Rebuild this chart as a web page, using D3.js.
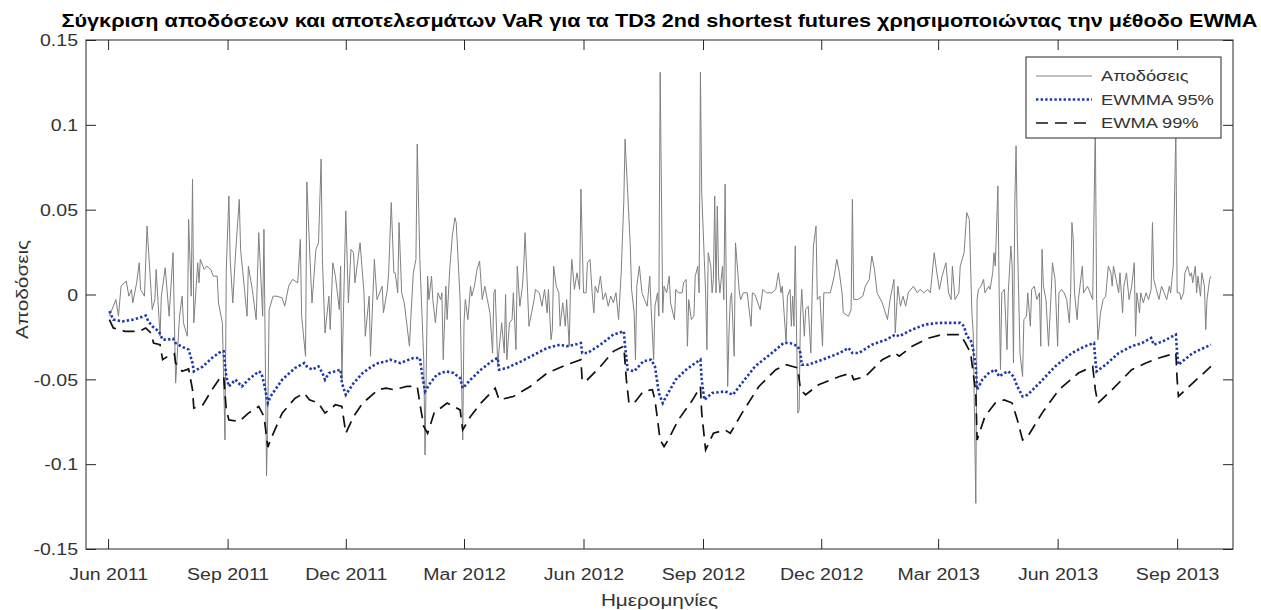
<!DOCTYPE html>
<html>
<head>
<meta charset="utf-8">
<script src="https://cdn.jsdelivr.net/npm/d3@7"></script>
<style>
  body { margin: 0; background: #fff; }
  text { font-family: "Liberation Sans", Arial, sans-serif; }
</style>
</head>
<body>
<svg id="chart" width="1261" height="610"></svg>
<script>
// dates are kept as day offsets from 1 June 2011
const startDay = new Date(2011, 5, 1);

// daily returns [day, value]
const returnsData = [
  [1,-0.0128],[6,-0.003],[8,-0.0128],[10,0.005],[14,0.0079],[16,-0.001],[18,0.003],[19,-0.005],
  [22,0.0069],[24,0.0187],[25,0.003],[28,-0.001],[30,0.0404],[33,0.003],[34,-0.0089],[36,-0.003],
  [37,0.0148],[40,-0.0246],[41,-0.001],[44,0.0158],[47,-0.0128],[50,0.0246],[52,-0.0522],[55,-0.0128],
  [57,-0.001],[58,-0.0167],[61,-0.0246],[62,0.0443],[64,-0.001],[65,0.068],[66,-0.0167],[69,0.0187],
  [70,0.0069],[71,0.0207],[74,0.0148],[76,0.0167],[79,0.0148],[81,0.0108],[84,0.0108],[85,-0.005],
  [88,-0.0167],[90,-0.0857],[91,0.0148],[93,0.0581],[94,0.0207],[96,-0.005],[98,0.0227],[101,0.0561],
  [102,0.0266],[105,0.003],[107,-0.0128],[108,0.0167],[111,0.003],[114,-0.0148],[116,0.0364],[119,-0.0128],
  [120,0.0384],[122,-0.107],[123,-0.068],[124,-0.0089],[127,-0.001],[130,-0.001],[134,-0.002],[136,-0.0069],
  [139,0.0049],[142,0.0089],[146,0.0069],[148,0.0325],[149,-0.0128],[152,-0.0364],[153,0.0664],[156,0.0108],
  [157,-0.005],[160,0.0266],[162,0.0305],[164,0.0798],[165,0.0207],[167,-0.0227],[170,-0.001],[171,-0.0207],
  [173,0.0187],[175,0.0108],[178,-0.0089],[179,0.0167],[180,-0.0502],[183,0.0493],[185,-0.005],[187,0.0266],
  [189,0.0246],[190,0.0069],[194,0.0305],[197,0.001],[198,-0.0246],[201,-0.001],[202,-0.0364],[205,0.0207],
  [207,-0.003],[211,0.0049],[212,-0.0108],[215,0.003],[216,0.0128],[218,0.0542],[220,0.0128],[221,0.0128],
  [223,0.001],[224,0.0424],[226,0.001],[228,-0.0049],[232,-0.0305],[233,-0.0148],[235,0.0128],[237,0.0207],
  [238,0.0887],[240,0.0207],[241,0.001],[243,-0.0384],[244,-0.0946],[246,0.0108],[247,-0.003],[249,0.0108],
  [250,-0.003],[252,-0.0167],[254,0.001],[256,-0.003],[257,0.001],[258,-0.0384],[260,0.0049],[261,-0.0148],
  [263,0.0148],[265,0.0345],[267,0.0453],[268,0.0424],[270,0.0128],[271,-0.003],[273,-0.0857],[274,-0.0167],
  [275,-0.003],[277,-0.0148],[279,0.0049],[280,-0.001],[282,0.0049],[284,0.0148],[286,0.0197],[288,-0.003],
  [290,0.0049],[292,-0.003],[294,-0.0108],[296,-0.0345],[297,0.001],[298,0.003],[300,-0.0424],[301,-0.0325],
  [303,-0.0167],[305,-0.0345],[306,0],[307,-0.0384],[309,-0.0167],[311,-0.0148],[312,0.001],[314,-0.0325],
  [315,0.0167],[317,-0.0069],[319,0.0049],[320,0.0167],[321,0.0364],[323,0.001],[324,-0.0187],[326,-0.0108],
  [328,-0.003],[329,0.003],[332,0.001],[334,-0.0069],[336,0.003],[338,-0.0108],[339,0.003],[341,-0.0266],
  [342,-0.0207],[343,0.0167],[345,0.0049],[347,0.001],[348,-0.0187],[350,-0.0049],[352,-0.0187],[353,-0.003],
  [355,-0.0305],[356,0.0049],[357,0.0207],[359,0.003],[361,0.0128],[363,0.003],[364,0.0621],[366,0.001],
  [368,0.001],[369,0.0187],[371,0.0207],[373,-0.003],[374,-0.0108],[375,0.0049],[377,0.001],[379,0.0108],
  [381,-0.003],[383,0.001],[385,-0.0069],[387,-0.001],[389,-0.0049],[391,0.001],[393,-0.0148],[395,0.0128],
  [397,0.0542],[398,0.0916],[400,0.0601],[402,0.0286],[403,0.003],[405,-0.0108],[406,-0.0384],[407,0.0049],
  [409,0.0167],[411,0.001],[413,-0.003],[415,-0.0069],[417,0.0108],[418,-0.0069],[420,-0.0384],[421,-0.0069],
  [423,0.001],[424,-0.0128],[425,0.131],[427,-0.0108],[428,0.0049],[430,0.001],[432,0.0108],[433,-0.0049],
  [436,-0.0148],[437,0.003],[439,0.001],[442,0.001],[443,0.0069],[445,0.0089],[446,-0.0305],[447,-0.003],
  [449,-0.0148],[451,-0.0128],[452,0.0108],[454,0.0167],[455,0.001],[456,0.131],[457,0.0601],[459,0.0207],
  [460,0.001],[461,-0.0325],[462,0.0246],[464,0.0167],[465,0.001],[466,0.0089],[467,0.0581],[468,0.001],
  [469,0.0522],[470,0.0108],[471,0.001],[473,0.0167],[474,-0.003],[475,0.065],[476,0.001],[477,-0.0542],
  [478,-0.0227],[479,-0.003],[480,0.001],[482,-0.0364],[483,0.0305],[484,0.0207],[486,0.001],[487,-0.003],
  [489,0.001],[492,0.001],[495,-0.0187],[496,0.001],[498,0],[502,-0.0089],[504,0.003],[507,0.001],
  [511,0.001],[514,0.003],[516,0.0128],[518,0.001],[519,0.0049],[522,-0.0286],[523,-0.001],[525,0.003],
  [526,-0.0187],[527,-0.001],[528,-0.0187],[529,0.0286],[531,-0.0699],[532,-0.068],[533,-0.0128],[534,0.003],
  [536,-0.0246],[537,-0.0089],[539,-0.0069],[541,-0.0345],[542,0.001],[543,0.0286],[545,0.0404],[546,-0.003],
  [548,-0.001],[550,-0.0305],[551,0.001],[554,0.001],[556,0.001],[559,0.0108],[561,0.0207],[563,0.0128],
  [565,0.001],[566,-0.0108],[570,-0.0128],[572,-0.0089],[573,0.0561],[574,-0.003],[577,-0.003],[581,-0.001],
  [583,0.0049],[586,0.0089],[588,0.0227],[590,0.0148],[592,0.001],[596,-0.0049],[600,-0.0148],[602,-0.003],
  [605,0.0089],[606,-0.0227],[608,0.0049],[610,-0.0069],[612,-0.001],[614,-0.0069],[616,0.001],[618,0.003],
  [620,0.0049],[623,0.001],[625,0.003],[628,0.001],[631,0.003],[633,0.001],[634,0.0089],[636,0.0246],
  [638,0.0128],[640,0.003],[642,0.0108],[645,0.0187],[647,0.001],[649,-0.003],[650,0.0167],[652,-0.003],
  [655,0.001],[656,0.0167],[659,0.0246],[661,0.0483],[663,0.0443],[664,0.0167],[665,-0.0108],[666,-0.0227],
  [668,-0.1231],[669,-0.003],[670,0.003],[672,0.0049],[674,0.0089],[675,0.001],[678,0.0049],[679,0.003],
  [681,0.0128],[682,0.0246],[683,0.0167],[685,0.064],[686,0.001],[687,-0.0443],[688,0.001],[690,0.003],
  [692,-0.0325],[693,0.001],[695,0.0286],[696,0.0167],[697,-0.0404],[698,0.0522],[699,0.0877],[700,0.0325],
  [701,0.001],[702,-0.0345],[704,-0.0483],[705,-0.0148],[707,-0.0128],[708,0.001],[710,-0.0187],[711,0.003],
  [713,0.0049],[715,-0.003],[717,0.001],[718,-0.0305],[719,0.0266],[720,0.0049],[722,-0.003],[724,-0.0305],
  [726,0.001],[727,0.0187],[729,0.0089],[731,-0.0305],[732,0.001],[734,0.003],[736,0.001],[738,-0.003],
  [740,-0.0167],[741,0.001],[742,0.0424],[743,0.0325],[744,0.001],[746,-0.0148],[747,-0.003],[750,0.0167],
  [751,0.001],[754,0.0049],[756,0.001],[758,-0.003],[760,0.1],[761,-0.003],[762,-0.0266],[764,-0.0108],
  [766,-0.003],[768,-0.001],[770,0.0167],[772,0.0128],[773,0.0049],[774,0.0167],[776,0.0089],[778,0.001],
  [779,0.0128],[781,-0.0108],[782,0.0049],[784,0.0128],[786,-0.003],[788,0.0049],[790,0.0187],[791,-0.0246],
  [792,0.001],[794,-0.0108],[795,0.001],[797,-0.0049],[799,0.001],[801,-0.003],[803,0.003],[804,0.0424],
  [805,0.0089],[807,0.003],[809,-0.003],[811,0.0049],[813,0.001],[815,-0.003],[817,0.0049],[818,0.001],
  [820,0.0167],[822,0.097],[823,0.001],[825,0.001],[826,-0.003],[828,0.001],[829,0.0128],[831,0.0167],
  [833,0.0108],[834,0.0128],[835,0.0069],[837,0.0167],[838,0.001],[839,0.0108],[841,-0.001],[842,0.0128],
  [844,0.0049],[845,-0.0207],[846,-0.003],[848,0.0089],[849,0.0108]
];

// EWMA VaR 95% [day, value]
const var95Data = [
  [1,-0.0098],[4,-0.0148],[11,-0.0158],[19,-0.0148],[24,-0.0138],[29,-0.0124],[31,-0.0158],[34,-0.0187],
  [39,-0.0217],[42,-0.0266],[46,-0.0266],[50,-0.026],[52,-0.0286],[56,-0.0305],[62,-0.0325],[65,-0.0404],
  [66,-0.0453],[73,-0.0424],[80,-0.0374],[87,-0.0335],[89,-0.0335],[91,-0.0483],[93,-0.0542],[98,-0.0502],
  [103,-0.0542],[108,-0.0502],[116,-0.0453],[118,-0.0463],[120,-0.0522],[123,-0.064],[125,-0.0601],[134,-0.0502],
  [144,-0.0433],[151,-0.0404],[153,-0.0424],[157,-0.0443],[162,-0.0424],[165,-0.0463],[167,-0.0502],[170,-0.0463],
  [179,-0.0443],[180,-0.0522],[183,-0.0591],[189,-0.0522],[196,-0.0463],[203,-0.0424],[208,-0.0404],[214,-0.0394],
  [217,-0.0384],[225,-0.0404],[235,-0.0374],[240,-0.0374],[242,-0.0483],[244,-0.0571],[248,-0.0522],[253,-0.0473],
  [260,-0.0453],[266,-0.0463],[271,-0.0493],[273,-0.0552],[279,-0.0502],[287,-0.0443],[297,-0.0384],[300,-0.0374],
  [301,-0.0443],[307,-0.0433],[318,-0.0394],[328,-0.0355],[338,-0.0315],[348,-0.0296],[353,-0.0305],[359,-0.0296],
  [364,-0.0286],[365,-0.0345],[369,-0.0345],[379,-0.0296],[389,-0.0236],[397,-0.0217],[398,-0.0305],[400,-0.0443],
  [405,-0.0453],[412,-0.0394],[418,-0.0384],[421,-0.0424],[424,-0.0581],[427,-0.064],[429,-0.061],[437,-0.0502],
  [445,-0.0443],[452,-0.0404],[456,-0.0384],[457,-0.0502],[459,-0.0621],[465,-0.0581],[475,-0.0571],[481,-0.0591],
  [488,-0.0522],[498,-0.0424],[511,-0.0345],[520,-0.0286],[525,-0.0286],[531,-0.0305],[533,-0.0345],[534,-0.0414],
  [539,-0.0414],[550,-0.0384],[563,-0.0345],[570,-0.0315],[573,-0.0345],[578,-0.0345],[588,-0.0296],[599,-0.0266],
  [606,-0.0236],[609,-0.0246],[619,-0.0207],[629,-0.0177],[640,-0.0167],[650,-0.0167],[656,-0.0167],[659,-0.0187],
  [661,-0.0246],[664,-0.0266],[666,-0.0325],[668,-0.0424],[669,-0.0561],[673,-0.0502],[678,-0.0463],[683,-0.0443],
  [686,-0.0483],[690,-0.0463],[693,-0.0453],[697,-0.0483],[700,-0.0542],[704,-0.0601],[708,-0.0591],[717,-0.0522],
  [729,-0.0424],[742,-0.0345],[752,-0.0305],[759,-0.0286],[760,-0.0384],[761,-0.0453],[768,-0.0414],[778,-0.0345],
  [788,-0.0305],[796,-0.0286],[803,-0.0256],[805,-0.0296],[812,-0.0276],[822,-0.0236],[823,-0.0345],[824,-0.0414],
  [835,-0.0345],[849,-0.0296]
];

// EWMA VaR 99% [day, value]
const var99Data = [
  [1,-0.0148],[4,-0.0197],[13,-0.0217],[24,-0.0217],[29,-0.0197],[33,-0.0227],[35,-0.0286],[40,-0.0296],
  [42,-0.0384],[46,-0.0364],[51,-0.0349],[52,-0.0404],[57,-0.0453],[62,-0.0439],[65,-0.0561],[66,-0.067],
  [73,-0.065],[80,-0.0561],[87,-0.0483],[89,-0.0483],[91,-0.068],[93,-0.0739],[101,-0.0749],[108,-0.0699],
  [116,-0.066],[120,-0.0719],[123,-0.09],[125,-0.0857],[134,-0.0699],[144,-0.0611],[151,-0.0581],[155,-0.0621],
  [162,-0.064],[167,-0.0699],[175,-0.065],[180,-0.066],[183,-0.0818],[189,-0.0719],[196,-0.064],[208,-0.0561],
  [214,-0.0552],[220,-0.0561],[230,-0.0542],[238,-0.0542],[240,-0.064],[243,-0.0778],[246,-0.0818],[251,-0.0699],
  [261,-0.064],[271,-0.068],[273,-0.0798],[279,-0.0719],[287,-0.064],[298,-0.0552],[301,-0.0621],[312,-0.0601],
  [325,-0.0542],[338,-0.0463],[353,-0.0414],[364,-0.0384],[365,-0.0512],[369,-0.0502],[379,-0.0424],[389,-0.0335],
  [397,-0.0305],[399,-0.0502],[401,-0.064],[405,-0.064],[412,-0.0571],[419,-0.0561],[421,-0.0621],[425,-0.0857],
  [428,-0.0896],[431,-0.086],[439,-0.0739],[450,-0.0621],[456,-0.0542],[457,-0.0699],[460,-0.0916],[466,-0.0818],
  [475,-0.0798],[479,-0.0818],[488,-0.0699],[501,-0.0542],[514,-0.0443],[522,-0.0414],[531,-0.0433],[533,-0.0561],
  [537,-0.0591],[547,-0.0532],[563,-0.0483],[572,-0.0463],[574,-0.0502],[583,-0.0483],[596,-0.0384],[606,-0.0345],
  [609,-0.0364],[619,-0.0305],[632,-0.0256],[642,-0.0236],[656,-0.0236],[660,-0.0286],[664,-0.0345],[668,-0.0581],
  [669,-0.0857],[675,-0.0719],[683,-0.064],[690,-0.0621],[696,-0.064],[700,-0.0739],[704,-0.0857],[708,-0.0837],
  [719,-0.0699],[732,-0.0561],[747,-0.0463],[758,-0.0424],[760,-0.0561],[762,-0.064],[773,-0.0561],[788,-0.0443],
  [799,-0.0404],[809,-0.0374],[822,-0.0345],[823,-0.0502],[824,-0.0601],[835,-0.0522],[849,-0.0424]
];

const yTicks = [-0.15, -0.1, -0.05, 0, 0.05, 0.1, 0.15];
const xTickDates = ["2011-06-01","2011-09-01","2011-12-01","2012-03-01","2012-06-01","2012-09-01",
                    "2012-12-01","2013-03-01","2013-06-01","2013-09-01"];
const xTickLabels = ["Jun 2011","Sep 2011","Dec 2011","Mar 2012","Jun 2012","Sep 2012",
                     "Dec 2012","Mar 2013","Jun 2013","Sep 2013"];
const legendLabels = ["Αποδόσεις", "EWMMA 95%", "EWMA 99%"];

const titleText = "Σύγκριση αποδόσεων και αποτελεσμάτων VaR για τα TD3 2nd shortest futures χρησιμοποιώντας την μέθοδο EWMA";

const margin = { top: 40, right: 28, bottom: 61, left: 86 },
      width = 1261 - margin.left - margin.right,
      height = 610 - margin.top - margin.bottom;

const toDate = n => d3.timeDay.offset(startDay, n);
const axisColor = "#262626";
const stretch = 1.22;   // the reference text is drawn horizontally wider

const svg = d3.select("#chart");
const g = svg.append("g").attr("transform", `translate(${margin.left},${margin.top})`);

const xScale = d3.scaleTime()
  .domain([new Date(2011, 4, 15), new Date(2013, 9, 14)])
  .range([0, width]);
const yScale = d3.scaleLinear().domain([-0.15, 0.15]).range([height, 0]);

svg.append("defs").append("clipPath").attr("id", "plotclip")
  .append("rect").attr("width", width).attr("height", height);

// lines
const line = d3.line()
  .x(d => xScale(toDate(d[0])))
  .y(d => yScale(d[1]));

const plot = g.append("g").attr("clip-path", "url(#plotclip)");

plot.append("path")
  .datum(returnsData)
  .attr("fill", "none")
  .attr("stroke", "#808080")
  .attr("stroke-width", 1)
  .attr("d", line);

plot.append("path")
  .datum(var95Data)
  .attr("fill", "none")
  .attr("stroke", "#1f3aa8")
  .attr("stroke-width", 2.6)
  .attr("stroke-dasharray", "2.4,2.2")
  .attr("d", line);

plot.append("path")
  .datum(var99Data)
  .attr("fill", "none")
  .attr("stroke", "#111")
  .attr("stroke-width", 1.7)
  .attr("stroke-dasharray", "12,7")
  .attr("d", line);

// axes with inward ticks on all four sides
const tickDates = xTickDates.map(s => d3.timeParse("%Y-%m-%d")(s));
const fmtY = d => String(+d.toFixed(2));

const xAxis = g.append("g")
  .attr("transform", `translate(0,${height})`)
  .call(d3.axisBottom(xScale).tickValues(tickDates).tickSize(-10).tickPadding(20)
    .tickFormat((d, i) => xTickLabels[i]));
g.append("g")
  .call(d3.axisTop(xScale).tickValues(tickDates).tickSize(-10).tickFormat(""));
const yAxis = g.append("g")
  .call(d3.axisLeft(yScale).tickValues(yTicks).tickSize(-10).tickPadding(8).tickFormat(fmtY));
g.append("g")
  .attr("transform", `translate(${width},0)`)
  .call(d3.axisRight(yScale).tickValues(yTicks).tickSize(-10).tickFormat(""));

g.selectAll(".domain").remove();
g.selectAll(".tick line").attr("stroke", axisColor);
g.selectAll(".tick text")
  .attr("fill", "#333")
  .style("font-size", "16px")
  .style("font-family", '"Liberation Sans", Arial, sans-serif');
yAxis.selectAll(".tick text").attr("dy", "0.36em");

g.append("rect")
  .attr("width", width).attr("height", height)
  .attr("fill", "none").attr("stroke", axisColor).attr("stroke-width", 1);

// titles
svg.append("text")
  .attr("class", "title")
  .attr("x", margin.left + width / 2)
  .attr("y", 27)
  .attr("text-anchor", "middle")
  .style("font-size", "19px")
  .style("font-weight", "bold")
  .attr("fill", "#000")
  .text(titleText);

svg.append("text")
  .attr("x", margin.left + width / 2)
  .attr("y", 606)
  .attr("text-anchor", "middle")
  .style("font-size", "17px")
  .attr("fill", "#333")
  .text("Ημερομηνίες");

svg.append("text")
  .attr("transform", `translate(28,${margin.top + height / 2 - 5}) rotate(-90)`)
  .attr("text-anchor", "middle")
  .style("font-size", "17px")
  .attr("fill", "#333")
  .text("Αποδόσεις");

// legend
const legend = svg.append("g").attr("transform", "translate(1026,57)");
legend.append("rect")
  .attr("width", 195).attr("height", 81)
  .attr("fill", "#fff").attr("stroke", axisColor).attr("stroke-width", 1);

const legendStyles = [
  { stroke: "#808080", width: 1, dash: null },
  { stroke: "#1f3aa8", width: 2.6, dash: "2.4,2.2" },
  { stroke: "#111", width: 1.7, dash: "12,7" }
];
const rowY = [19, 42.5, 66];
legendLabels.forEach((label, i) => {
  const s = legendStyles[i];
  legend.append("line")
    .attr("x1", 10).attr("x2", 66)
    .attr("y1", rowY[i]).attr("y2", rowY[i])
    .attr("stroke", s.stroke).attr("stroke-width", s.width)
    .attr("stroke-dasharray", s.dash);
  legend.append("text")
    .attr("x", 75).attr("y", rowY[i]).attr("dy", "0.36em")
    .style("font-size", "15px")
    .attr("fill", "#333")
    .text(label);
});

// widen the text to match the reference proportions
svg.selectAll("text").each(function () {
  const len = this.getComputedTextLength();
  if (len > 0) {
    d3.select(this)
      .attr("textLength", len * stretch)
      .attr("lengthAdjust", "spacingAndGlyphs");
  }
});
svg.select(".title").attr("textLength", 1196);
</script>
</body>
</html>
